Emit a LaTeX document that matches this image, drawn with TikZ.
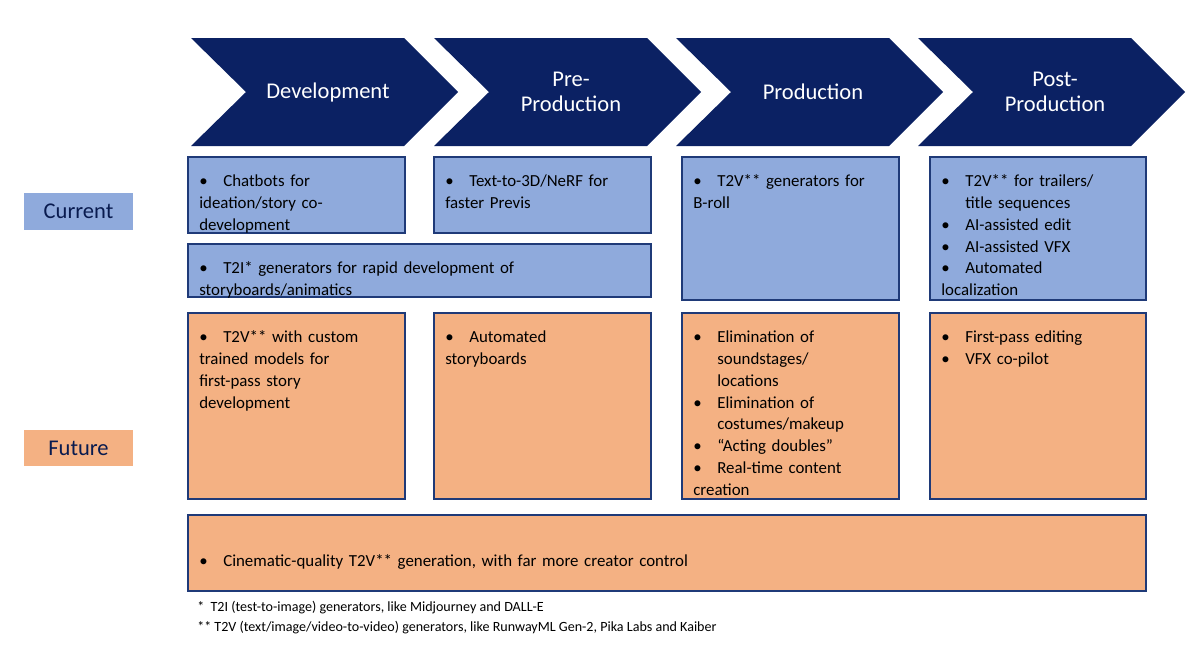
\documentclass[tikz,border=0pt]{standalone}
\usepackage{fontspec}
\setmainfont{Carlito}
\definecolor{navy}{HTML}{0B2163}
\definecolor{curblue}{HTML}{8FAADC}
\definecolor{futorange}{HTML}{F4B183}
\definecolor{edgeblue}{HTML}{1F3A78}
\newcommand{\itm}[1]{\par\noindent\hangindent=0.6cm\hangafter=1\makebox[0.6cm][l]{\textbullet}#1}
\tikzset{
  chev/.style={fill=navy, draw=none},
  chevtext/.style={text=white, font=\fontsize{16}{18}\selectfont, align=center},
  bluebox/.style={fill=curblue, draw=edgeblue, thick},
  orangebox/.style={fill=futorange, draw=edgeblue, thick},
  txt/.style={anchor=north west, inner sep=0pt, text width=#1, align=left,
    font=\fontsize{12}{15.6}\selectfont},
  txt/.default=5.6cm,
  rowlabel/.style={font=\fontsize{16}{18}\selectfont, text=navy!80!black}
}
\begin{document}
\begin{tikzpicture}[x=0.025cm, y=-0.025cm]
\useasboundingbox (0,0) rectangle (1200,647);
% stage chevrons
\foreach \x/\name/\lbl in {191/dev/Development, 434/pre/{Pre-\\Production}, 676/prod/Production, 918/post/{Post-\\Production}} {
  \fill[chev] (\x,38) -- ++(213,0) -- ++(54,54) -- ++(-54,54) -- ++(-213,0) -- ++(55,-54) -- cycle;
  \node[chevtext] (\name) at (\x+137,92) {\lbl};
}
% row labels
\draw[fill=curblue, draw=none] (24,193) rectangle (133,230);
\node[rowlabel] (current) at (78.5,211.5) {Current};
\draw[fill=futorange, draw=none] (24,430) rectangle (133,466);
\node[rowlabel] (future) at (78.5,448) {Future};
% current boxes
\draw[bluebox] (188,157) rectangle (405,233);
\draw[bluebox] (434,157) rectangle (651,233);
\draw[bluebox] (682,157) rectangle (899,300);
\draw[bluebox] (930,157) rectangle (1146,300);
\draw[bluebox] (188,244) rectangle (651,297);
\node[txt] (cdev) at (199,164) {\itm{Chatbots for\newline ideation/story co-\newline development}};
\node[txt] (cpre) at (445,164) {\itm{Text-to-3D/NeRF for\newline faster Previs}};
\node[txt] (cprod) at (693,164) {\itm{T2V** generators for\newline B-roll}};
\node[txt] (cpost) at (941,164) {\itm{T2V** for trailers/\newline title sequences}\itm{AI-assisted edit}\itm{AI-assisted VFX}\itm{Automated\newline localization}};
\node[txt=11cm] (cwide) at (199,251) {\itm{T2I* generators for rapid development of\newline storyboards/animatics}};
% future boxes
\draw[orangebox] (188,313) rectangle (405,499);
\draw[orangebox] (434,313) rectangle (651,499);
\draw[orangebox] (682,313) rectangle (899,499);
\draw[orangebox] (930,313) rectangle (1146,499);
\draw[orangebox] (188,515) rectangle (1146,591);
\node[txt] (fdev) at (199,320) {\itm{T2V** with custom\newline trained models for\newline first-pass story\newline development}};
\node[txt] (fpre) at (445,320) {\itm{Automated\newline storyboards}};
\node[txt] (fprod) at (693,320) {\itm{Elimination of\newline soundstages/\newline locations}\itm{Elimination of\newline costumes/makeup}\itm{“Acting doubles”}\itm{Real-time content\newline creation}};
\node[txt] (fpost) at (941,320) {\itm{First-pass editing}\itm{VFX co-pilot}};
\node[txt=22cm] (fwide) at (199,544) {\itm{Cinematic-quality T2V** generation, with far more creator control}};
% footnotes
\node[anchor=west, inner sep=0pt, font=\fontsize{10}{12}\selectfont] (note1) at (197,608) {*\ \ T2I (test-to-image) generators, like Midjourney and DALL-E};
\node[anchor=west, inner sep=0pt, font=\fontsize{10}{12}\selectfont] (note2) at (197,628) {** T2V (text/image/video-to-video) generators, like RunwayML Gen-2, Pika Labs and Kaiber};
\end{tikzpicture}
\end{document}
